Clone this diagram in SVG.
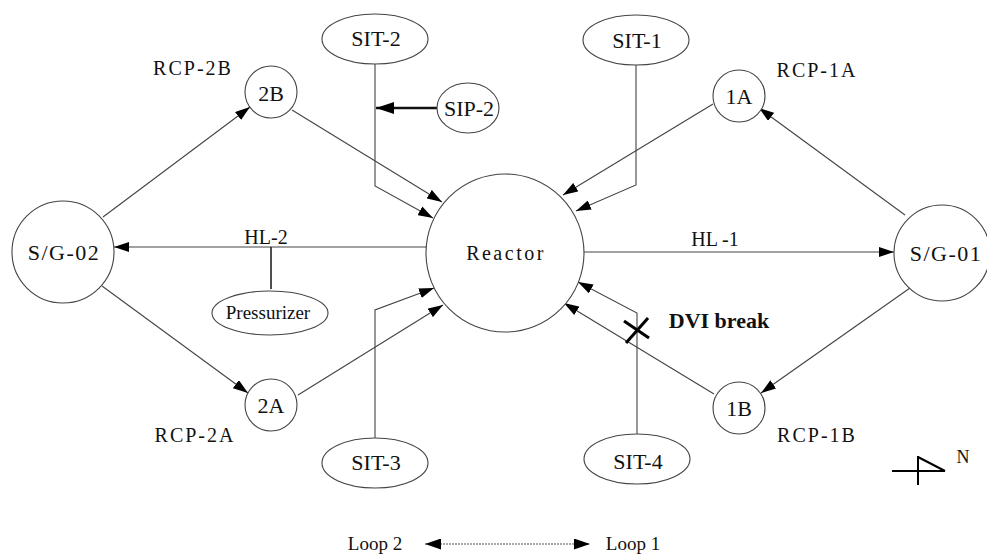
<svg xmlns="http://www.w3.org/2000/svg" width="987" height="556" viewBox="0 0 987 556">
<style>
.n{fill:#fff;stroke:#444;stroke-width:1.1}
.c{fill:none;stroke:#444;stroke-width:1.1}
.t{font-family:"Liberation Serif","Times New Roman",serif;fill:#111;text-anchor:middle}
.l{font-size:22px}
.r{font-size:20px;letter-spacing:2px}
</style>
<defs>
<marker id="ah" markerUnits="userSpaceOnUse" markerWidth="15" markerHeight="10" refX="15" refY="5" orient="auto">
<path d="M0,0 L15,5 L0,10 z" fill="#000"/>
</marker>
<marker id="ahb" markerUnits="userSpaceOnUse" markerWidth="18" markerHeight="12" refX="18" refY="6" orient="auto">
<path d="M0,0 L18,6 L0,12 z" fill="#000"/>
</marker>
<marker id="ahs" markerUnits="userSpaceOnUse" markerWidth="16" markerHeight="11" refX="16" refY="5.5" orient="auto-start-reverse">
<path d="M0,0 L16,5.5 L0,11 z" fill="#000"/>
</marker>
</defs>
<rect width="987" height="556" fill="#fff"/>

<g id="connectors">
<line class="c" x1="103" y1="217" x2="250" y2="107" marker-end="url(#ah)"/>
<line class="c" x1="292" y1="110" x2="442" y2="202" marker-end="url(#ah)"/>
<polyline class="c" points="375,64 375,186 433,218" marker-end="url(#ah)"/>
<line x1="437" y1="108" x2="376" y2="108" stroke="#111" stroke-width="2.6" marker-end="url(#ahb)"/>
<line class="c" x1="102" y1="286" x2="248" y2="393" marker-end="url(#ah)"/>
<line class="c" x1="298" y1="395" x2="443" y2="305" marker-end="url(#ah)"/>
<polyline class="c" points="375,438 375,310 434,288" marker-end="url(#ah)"/>
<line class="c" x1="427" y1="247" x2="114" y2="247" marker-end="url(#ah)"/>
<line x1="271" y1="247" x2="271" y2="289" stroke="#222" stroke-width="1.6"/>
<line class="c" x1="584" y1="252" x2="894" y2="252" marker-end="url(#ah)"/>
<line class="c" x1="905" y1="215" x2="759" y2="108" marker-end="url(#ah)"/>
<line class="c" x1="713" y1="104" x2="563" y2="195" marker-end="url(#ah)"/>
<polyline class="c" points="636,65 636,185 576,211" marker-end="url(#ah)"/>
<line class="c" x1="910" y1="288" x2="761" y2="393" marker-end="url(#ah)"/>
<line class="c" x1="714" y1="394" x2="564" y2="303" marker-end="url(#ah)"/>
<polyline class="c" points="637,434 637,313 578,282" marker-end="url(#ah)"/>
</g>

<g id="dvi-break">
<line x1="626" y1="343" x2="648" y2="318" stroke="#000" stroke-width="3"/>
<line x1="624" y1="321" x2="649" y2="338" stroke="#000" stroke-width="3"/>
<text class="t" x="719" y="328" style="font-size:22px;font-weight:bold">DVI break</text>
</g>

<g id="reactor">
<circle class="n" cx="505" cy="253" r="79"/>
<text class="t" x="506" y="260" style="font-size:20px;letter-spacing:2.5px">Reactor</text>
</g>
<g id="sg02">
<circle class="n" cx="63" cy="252" r="51"/>
<text class="t" x="64" y="260" style="font-size:22px;letter-spacing:1.5px">S/G-02</text>
</g>
<g id="sg01">
<circle class="n" cx="942" cy="253" r="48"/>
<text class="t" x="946" y="261" style="font-size:22px;letter-spacing:1.5px">S/G-01</text>
</g>
<g id="rcp2b">
<circle class="n" cx="271" cy="92" r="26"/>
<text class="t l" x="271" y="101">2B</text>
<text class="t r" x="193" y="75">RCP-2B</text>
</g>
<g id="rcp2a">
<circle class="n" cx="271" cy="405" r="26"/>
<text class="t l" x="271" y="413">2A</text>
<text class="t r" x="195" y="442">RCP-2A</text>
</g>
<g id="rcp1a">
<circle class="n" cx="739" cy="96" r="26"/>
<text class="t l" x="739" y="104">1A</text>
<text class="t r" x="817" y="77">RCP-1A</text>
</g>
<g id="rcp1b">
<circle class="n" cx="739" cy="408" r="26"/>
<text class="t l" x="739" y="416">1B</text>
<text class="t r" x="817" y="442">RCP-1B</text>
</g>
<g id="sit2">
<ellipse class="n" cx="375" cy="39" rx="53" ry="25"/>
<text class="t l" x="376" y="46">SIT-2</text>
</g>
<g id="sit1">
<ellipse class="n" cx="636" cy="40" rx="53" ry="25"/>
<text class="t l" x="637" y="48">SIT-1</text>
</g>
<g id="sip2">
<ellipse class="n" cx="468" cy="108" rx="31" ry="25"/>
<text class="t l" x="469" y="116">SIP-2</text>
</g>
<g id="sit3">
<ellipse class="n" cx="375" cy="463" rx="53" ry="25"/>
<text class="t l" x="376" y="470">SIT-3</text>
</g>
<g id="sit4">
<ellipse class="n" cx="637" cy="459" rx="53" ry="25"/>
<text class="t l" x="638" y="469">SIT-4</text>
</g>
<g id="pressurizer">
<ellipse class="n" cx="270" cy="313" rx="58" ry="22"/>
<text class="t" x="268" y="319" style="font-size:19px">Pressurizer</text>
</g>
<g id="labels">
<text class="t" x="266" y="244" style="font-size:20px">HL-2</text>
<text class="t" x="715" y="246" style="font-size:20px">HL -1</text>
</g>
<g id="north">
<line x1="892" y1="471" x2="945" y2="471" stroke="#000" stroke-width="2"/>
<line x1="918" y1="456" x2="918" y2="485" stroke="#000" stroke-width="2"/>
<line x1="918" y1="457" x2="945" y2="471" stroke="#000" stroke-width="2"/>
<text class="t" x="963" y="463" style="font-size:18px">N</text>
</g>
<g id="loop-legend">
<text class="t" x="375" y="550" style="font-size:19px">Loop 2</text>
<line x1="425" y1="544" x2="590" y2="544" stroke="#555" stroke-width="1.2" stroke-dasharray="2 1" marker-start="url(#ahs)" marker-end="url(#ahs)"/>
<text class="t" x="633" y="550" style="font-size:19px">Loop 1</text>
</g>
</svg>
